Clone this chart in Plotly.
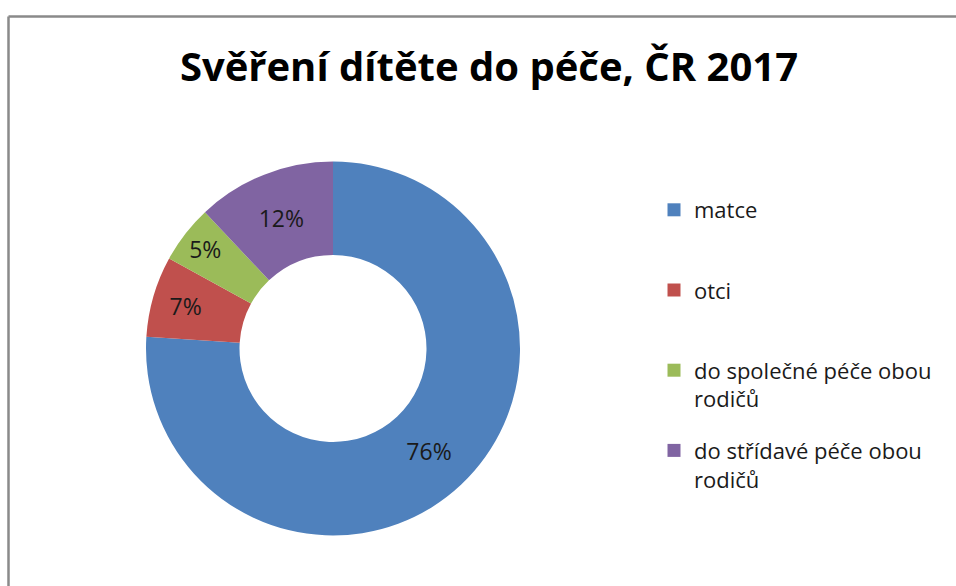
import plotly.graph_objects as go

labels = ["matce", "otci", "do společné péče obou<br>rodičů", "do střídavé péče obou<br>rodičů"]
values = [76, 7, 5, 12]
colors = ["#4F81BD", "#C0504D", "#9BBB59", "#8064A2"]
title = "Svěření dítěte do péče, ČR 2017"

W, H = 956, 586
OFF = 0
FONT = "'Open Sans', Lato, sans-serif"


def fx(px):
    return (px - OFF) / W


def fy(py):
    return 1 - (py - OFF) / H


cx, cy, r = 333, 348.5, 187

fig = go.Figure()
fig.add_trace(go.Pie(
    labels=labels,
    values=values,
    hole=0.5,
    sort=False,
    direction="clockwise",
    rotation=0,
    marker=dict(colors=colors, line=dict(width=0)),
    textinfo="percent",
    texttemplate="%{percent:.0%}",
    textposition="inside",
    insidetextorientation="horizontal",
    textfont=dict(family=FONT, size=23, color="#1a1a1a"),
    domain=dict(x=[fx(cx - r), fx(cx + r)], y=[fy(cy + r), fy(cy - r)]),
    showlegend=False,
))

# legend entries for the slices (one group each, so they can be spaced evenly)
for i, (lab, col) in enumerate(zip(labels, colors)):
    text = lab if "<br>" in lab else lab + "<br> "
    fig.add_trace(go.Scatter(
        x=[None], y=[None], mode="markers", name=text,
        marker=dict(symbol="square", size=13, color=col, line=dict(width=0)),
        legendgroup=f"g{i}", showlegend=True, hoverinfo="skip",
    ))

frame = dict(color="#8a8a8a", width=2.5)
fig.update_layout(
    width=W, height=H,
    margin=dict(l=0, r=0, t=0, b=0),
    paper_bgcolor="white",
    plot_bgcolor="white",
    xaxis=dict(visible=False),
    yaxis=dict(visible=False),
    title=dict(text=title, x=fx(489), xanchor="center", y=fy(66.5), yanchor="middle",
               font=dict(family=FONT, size=40, color="black", weight="bold")),
    legend=dict(x=fx(654), xanchor="left", y=fy(189), yanchor="top",
                font=dict(family=FONT, size=22, color="#1a1a1a"),
                valign="top", itemwidth=30, tracegroupgap=20, traceorder="grouped",
                bgcolor="rgba(0,0,0,0)"),
    shapes=[
        dict(type="line", xref="paper", yref="paper", x0=fx(8.5), x1=1, y0=fy(16.5), y1=fy(16.5), line=frame),
        dict(type="line", xref="paper", yref="paper", x0=fx(8.5), x1=fx(8.5), y0=0, y1=fy(16.5), line=frame),
    ],
)

fig.write_html(
    "out.html",
    config={"displayModeBar": False},
    post_script="document.body.style.margin='0';document.documentElement.style.overflow='hidden';",
)
